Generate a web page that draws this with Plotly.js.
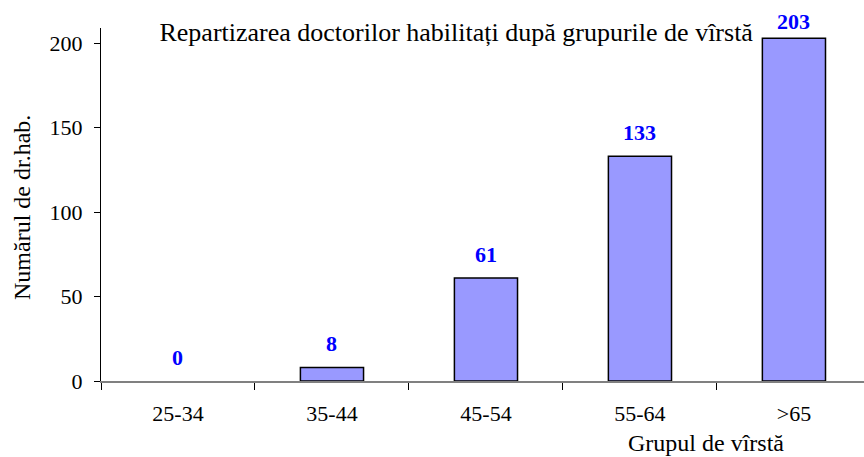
<!DOCTYPE html>
<html>
<head>
<meta charset="utf-8">
<script src="https://cdn.plot.ly/plotly-3.0.1.min.js"></script>
<style>html,body{margin:0;padding:0;background:#fff;}#chart{width:864px;height:457px;}</style>
</head>
<body>
<div id="chart"></div>
<script>
const categories = ["25-34", "35-44", "45-54", "55-64", ">65"];
const values = [0, 8, 61, 133, 203];
const yTicks = [0, 50, 100, 150, 200];

const serif = "Liberation Serif";
const yMax = 209;
const plotTop = 28, plotH = 353;

const trace = {
  type: "bar",
  x: categories,
  y: values,
  width: 0.41,
  marker: { color: "#9999FF", line: { color: "#000000", width: values.map(v => v > 0 ? 1.5 : 0) } },
  hoverinfo: "none"
};

// value labels sit above bars, but are kept inside the figure (clamped near the top edge)
const labelAnnotations = categories.map((c, i) => {
  const barTopPx = plotTop + plotH * (1 - values[i] / yMax);
  const wanted = 9;
  const labelH = 26;
  const minTop = 10;
  const shift = Math.min(wanted, barTopPx - labelH - minTop);
  return {
    x: c, y: values[i], xref: "x", yref: "y",
    text: "<b>" + values[i] + "</b>",
    showarrow: false, yanchor: "bottom", yshift: shift,
    font: { family: serif, size: 22, color: "#0000FF" }
  };
});

const layout = {
  width: 864, height: 457,
  margin: { l: 101, r: 0, t: plotTop, b: 76 },
  paper_bgcolor: "#ffffff", plot_bgcolor: "#ffffff",
  showlegend: false,
  font: { family: serif },
  title: {
    text: "Repartizarea doctorilor habilitați după grupurile de vîrstă",
    x: 0.528, xref: "container", xanchor: "center",
    y: 1 - 32 / 457, yref: "container", yanchor: "middle",
    font: { family: serif, size: 26, color: "#000" }
  },
  xaxis: {
    type: "category",
    range: [-0.5, 4.455],
    showline: true, linecolor: "#808080", linewidth: 1.5,
    ticks: "outside", tickson: "boundaries", ticklen: 7, tickcolor: "#000", tickwidth: 1,
    ticklabelstandoff: 12,
    showgrid: false, zeroline: false,
    tickfont: { family: serif, size: 22, color: "#000" },
    fixedrange: true
  },
  yaxis: {
    range: [0, yMax],
    tickvals: yTicks, ticktext: yTicks.map(String),
    showline: true, linecolor: "#000", linewidth: 1,
    ticks: "outside", ticklen: 6, tickcolor: "#000",
    ticklabelstandoff: 7,
    showgrid: false, zeroline: false,
    tickfont: { family: serif, size: 22, color: "#000" },
    fixedrange: true
  },
  annotations: labelAnnotations.concat([
    {
      text: "Numărul de dr.hab.", textangle: -90,
      xref: "paper", yref: "paper", x: 0, y: (381 - 208) / 353,
      xanchor: "center", yanchor: "middle", xshift: -79,
      showarrow: false,
      font: { family: serif, size: 24, color: "#000" }
    },
    {
      text: "Grupul de vîrstă",
      xref: "paper", yref: "paper", x: (706 - 101) / 763, y: 0,
      xanchor: "center", yanchor: "middle", yshift: -62,
      showarrow: false,
      font: { family: serif, size: 24, color: "#000" }
    }
  ])
};

Plotly.newPlot("chart", [trace], layout, { staticPlot: true, displayModeBar: false });
</script>
</body>
</html>
